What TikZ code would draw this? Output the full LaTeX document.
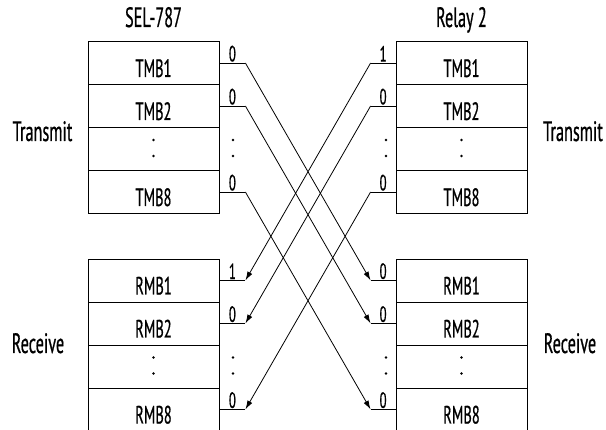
\documentclass[tikz,border=0pt]{standalone}
\usepackage{fontspec}
\setmainfont[FakeStretch=0.58,FakeBold=0.6]{PT Sans}
\usepackage{tikz}
\usetikzlibrary{positioning, calc, arrows.meta}
\tikzset{
    regbox/.style = {draw, line width=0.8pt, minimum width=131pt, minimum height=43pt, inner sep=0pt, text height=28pt, text depth=0pt, font=\fontsize{25}{28}\selectfont},
    bit/.style = {above, inner sep=1pt, font=\fontsize{22}{25}\selectfont},
    head/.style = {anchor=base, font=\fontsize{28}{31}\selectfont},
    mbarrow/.style = {line width=0.8pt, -{Latex[length=9pt,width=5.5pt]}}
}
\newcommand{\mbrow}[4] {
    \node[regbox] (#1) at (#2,#3) {#4};
}
\newcommand{\mbdots}[2] {
    \fill (#1,#2-8) circle (1.3pt);
    \fill (#1,#2+8) circle (1.3pt);
}
\newcommand{\stubE}[3] {
    \coordinate[right=26pt of #1.east] (#2);
    \draw[line width=0.8pt] (#1.east) -- node[bit] {#3} (#2);
}
\newcommand{\stubW}[3] {
    \coordinate[left=25pt of #1.west] (#2);
    \draw[line width=0.8pt] (#2) -- node[bit] {#3} (#1.west);
}
\begin{document}
\begin{tikzpicture}[x=1pt, y=-1pt]
                \useasboundingbox (0,0) rectangle (606,430);
                \node[head] (selname) at (153.5,27) {SEL-787};
                \node[head] (relname) at (461.5,27) {Relay 2};
                \node[head] (txl) at (42.5,141) {Transmit};
                \node[head] (txr) at (573,141) {Transmit};
                \node[head] (rxl) at (38,353) {Receive};
                \node[head] (rxr) at (570,353) {Receive};
                \mbrow{lt1}{153.5}{63}{TMB1}
                \mbrow{lt2}{153.5}{106}{TMB2}
                \mbrow{lt3}{153.5}{149}{}
                \mbrow{lt8}{153.5}{192}{TMB8}
                \mbrow{rt1}{461.5}{63}{TMB1}
                \mbrow{rt2}{461.5}{106}{TMB2}
                \mbrow{rt3}{461.5}{149}{}
                \mbrow{rt8}{461.5}{192}{TMB8}
                \mbrow{lb1}{153.5}{280.5}{RMB1}
                \mbrow{lb2}{153.5}{323.5}{RMB2}
                \mbrow{lb3}{153.5}{366.5}{}
                \mbrow{lb8}{153.5}{409.5}{RMB8}
                \mbrow{rb1}{461.5}{280.5}{RMB1}
                \mbrow{rb2}{461.5}{323.5}{RMB2}
                \mbrow{rb3}{461.5}{366.5}{}
                \mbrow{rb8}{461.5}{409.5}{RMB8}
                \mbdots{153.5}{148}
                \mbdots{461.5}{148}
                \mbdots{153.5}{365.5}
                \mbdots{461.5}{365.5}
                \mbdots{233}{148}
                \mbdots{386}{148}
                \mbdots{233}{365.5}
                \mbdots{386}{365.5}
                \stubE{lt1}{lt1x}{0}
                \stubE{lt2}{lt2x}{0}
                \stubE{lt8}{lt8x}{0}
                \stubW{rt1}{rt1x}{1}
                \stubW{rt2}{rt2x}{0}
                \stubW{rt8}{rt8x}{0}
                \stubE{lb1}{lb1x}{1}
                \stubE{lb2}{lb2x}{0}
                \stubE{lb8}{lb8x}{0}
                \stubW{rb1}{rb1x}{0}
                \stubW{rb2}{rb2x}{0}
                \stubW{rb8}{rb8x}{0}
                \draw[mbarrow] (lt1x) -- (rb1x);
                \draw[mbarrow] (lt2x) -- (rb2x);
                \draw[mbarrow] (lt8x) -- (rb8x);
                \draw[mbarrow] (rt1x) -- (lb1x);
                \draw[mbarrow] (rt2x) -- (lb2x);
                \draw[mbarrow] (rt8x) -- (lb8x);
            \end{tikzpicture}
\end{document}
